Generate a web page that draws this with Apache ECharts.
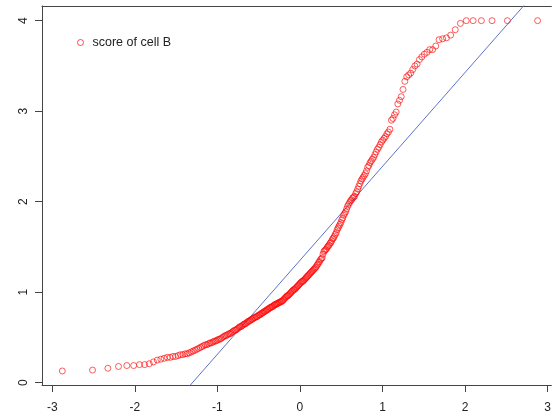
<!DOCTYPE html>
<html>
<head>
<meta charset="utf-8">
<script src="https://cdn.jsdelivr.net/npm/echarts@6/dist/echarts.min.js"></script>
<style>
  html, body { margin: 0; padding: 0; background: #fff; }
  #chart { width: 554px; height: 419px; }
</style>
</head>
<body>
<div id="chart"></div>
<script>
// Sorted sample of cell B scores (n = 250)
const scoreCellB = [
  0.13, 0.14, 0.16, 0.18, 0.19, 0.19, 0.20, 0.20, 0.21, 0.23,
  0.25, 0.26, 0.27, 0.28, 0.28, 0.29, 0.29, 0.30, 0.31, 0.31,
  0.32, 0.32, 0.33, 0.34, 0.35, 0.36, 0.37, 0.38, 0.39, 0.40,
  0.41, 0.42, 0.42, 0.43, 0.44, 0.44, 0.45, 0.46, 0.46, 0.47,
  0.48, 0.48, 0.49, 0.50, 0.51, 0.52, 0.52, 0.53, 0.54, 0.54,
  0.55, 0.56, 0.57, 0.58, 0.58, 0.59, 0.60, 0.61, 0.62, 0.62,
  0.63, 0.64, 0.65, 0.65, 0.66, 0.67, 0.68, 0.68, 0.69, 0.70,
  0.70, 0.71, 0.72, 0.72, 0.73, 0.73, 0.74, 0.75, 0.75, 0.76,
  0.77, 0.77, 0.78, 0.79, 0.79, 0.80, 0.81, 0.81, 0.82, 0.83,
  0.83, 0.84, 0.84, 0.85, 0.86, 0.86, 0.87, 0.87, 0.88, 0.88,
  0.89, 0.89, 0.90, 0.90, 0.91, 0.92, 0.93, 0.94, 0.95, 0.96,
  0.96, 0.97, 0.98, 0.99, 1.00, 1.01, 1.02, 1.03, 1.03, 1.04,
  1.05, 1.06, 1.07, 1.08, 1.09, 1.10, 1.11, 1.12, 1.12, 1.13,
  1.14, 1.15, 1.16, 1.17, 1.18, 1.19, 1.20, 1.21, 1.22, 1.23,
  1.24, 1.25, 1.26, 1.27, 1.28, 1.30, 1.31, 1.33, 1.34, 1.36,
  1.37, 1.38, 1.42, 1.45, 1.46, 1.47, 1.48, 1.50, 1.51, 1.52,
  1.54, 1.55, 1.57, 1.59, 1.60, 1.62, 1.64, 1.66, 1.69, 1.71,
  1.73, 1.75, 1.77, 1.80, 1.82, 1.85, 1.87, 1.89, 1.92, 1.95,
  1.97, 1.99, 2.01, 2.02, 2.04, 2.05, 2.06, 2.09, 2.11, 2.14,
  2.17, 2.20, 2.23, 2.25, 2.27, 2.29, 2.31, 2.34, 2.38, 2.40,
  2.43, 2.45, 2.47, 2.49, 2.52, 2.55, 2.58, 2.60, 2.63, 2.66,
  2.68, 2.70, 2.72, 2.75, 2.77, 2.80, 2.90, 2.92, 2.96, 2.99,
  3.08, 3.12, 3.16, 3.24, 3.33, 3.38, 3.40, 3.42, 3.46, 3.50,
  3.52, 3.57, 3.60, 3.63, 3.65, 3.68, 3.68, 3.72, 3.79, 3.80,
  3.81, 3.84, 3.90, 3.97, 4.00, 4.00, 4.00, 4.00, 4.00, 4.00
];

// Reference line (intercept, slope)
const refLine = [1.352, 1.038];

// Tick values
const xTicks = [-3, -2, -1, 0, 1, 2, 3];
const yTicks = [0, 1, 2, 3, 4];

const seriesName = 'score of cell B';

// Inverse standard normal CDF (Acklam's rational approximation)
function qnorm(p) {
  const a = [-39.69683028665376, 220.9460984245205, -275.9285104469687,
             138.3577518672690, -30.66479806614716, 2.506628277459239];
  const b = [-54.47609879822406, 161.5858368580409, -155.6989798598866,
             66.80131188771972, -13.28068155288572];
  const c = [-0.007784894002430293, -0.3223964580411365, -2.400758277161838,
             -2.549732539343734, 4.374664141464968, 2.938163982698783];
  const d = [0.007784695709041462, 0.3224671290700398, 2.445134137142996,
             3.754408661907416];
  const pl = 0.02425, ph = 1 - pl;
  let q, r;
  if (p < pl) {
    q = Math.sqrt(-2 * Math.log(p));
    return (((((c[0]*q+c[1])*q+c[2])*q+c[3])*q+c[4])*q+c[5]) /
           ((((d[0]*q+d[1])*q+d[2])*q+d[3])*q+1);
  }
  if (p > ph) {
    q = Math.sqrt(-2 * Math.log(1 - p));
    return -(((((c[0]*q+c[1])*q+c[2])*q+c[3])*q+c[4])*q+c[5]) /
            ((((d[0]*q+d[1])*q+d[2])*q+d[3])*q+1);
  }
  q = p - 0.5;
  r = q * q;
  return (((((a[0]*r+a[1])*r+a[2])*r+a[3])*r+a[4])*r+a[5])*q /
         (((((b[0]*r+b[1])*r+b[2])*r+b[3])*r+b[4])*r+1);
}

// Normal scores for the sorted sample (plotting positions (i - 0.5) / n)
const n = scoreCellB.length;
const qqPoints = scoreCellB.map((v, i) => [qnorm((i + 0.5) / n), v]);

// Plot region: the right edge of the frame lies just beyond the canvas
const xMin = -3.124, xMax = 3.045;
const yMin = -0.025, yMax = 4.162;
const linePoints = [xMin, xMax].map(x => [x, refLine[0] + refLine[1] * x]);

const FONT = '"Liberation Sans", Arial, sans-serif';
const FRAME = '#444';
const chart = echarts.init(document.getElementById('chart'), null, { renderer: 'canvas' });

chart.setOption({
  animation: false,
  backgroundColor: '#ffffff',
  textStyle: { fontFamily: FONT },
  grid: { left: 42, right: 0, top: 6, height: 379, show: false },
  legend: {
    left: 72, top: 31,
    itemWidth: 14, itemHeight: 6, itemGap: 0,
    icon: 'circle',
    data: [seriesName],
    itemStyle: { color: 'transparent', borderColor: 'rgba(255,0,0,0.85)', borderWidth: 1 },
    textStyle: { fontFamily: FONT, fontSize: 12.5, color: '#222', padding: [0, 0, 0, 0] }
  },
  xAxis: [
    {
      type: 'value', min: xMin, max: xMax, position: 'bottom',
      axisLine: { show: true, onZero: false, lineStyle: { color: FRAME, width: 1 } },
      splitLine: { show: false },
      axisTick: {
        show: true, length: 7, customValues: xTicks,
        lineStyle: { color: FRAME, width: 1 }
      },
      axisLabel: {
        customValues: xTicks, margin: 17,
        fontFamily: FONT, fontSize: 12, color: '#222'
      }
    },
    {
      // top edge of the frame
      type: 'value', min: xMin, max: xMax, position: 'top',
      axisLine: { show: true, onZero: false, lineStyle: { color: FRAME, width: 1 } },
      splitLine: { show: false },
      axisTick: { show: false },
      axisLabel: { show: false }
    }
  ],
  yAxis: {
    type: 'value', min: yMin, max: yMax, position: 'left',
    axisLine: { show: true, onZero: false, lineStyle: { color: FRAME, width: 1 } },
    splitLine: { show: false },
    axisTick: {
      show: true, length: 7, customValues: yTicks,
      lineStyle: { color: FRAME, width: 1 }
    },
    axisLabel: {
      customValues: yTicks, rotate: 90, margin: 12,
      fontFamily: FONT, fontSize: 12, color: '#222'
    }
  },
  series: [
    {
      name: seriesName,
      type: 'scatter',
      xAxisIndex: 0,
      data: qqPoints,
      symbol: 'circle',
      symbolSize: 6,
      itemStyle: { color: 'transparent', borderColor: 'rgba(255,0,0,0.8)', borderWidth: 1 },
      emphasis: { disabled: true },
      z: 3
    },
    {
      name: 'reference',
      type: 'line',
      xAxisIndex: 0,
      data: linePoints,
      showSymbol: false,
      symbol: 'none',
      clip: true,
      lineStyle: { color: '#5f72c8', width: 1 },
      emphasis: { disabled: true },
      z: 2
    }
  ]
});
</script>
</body>
</html>
